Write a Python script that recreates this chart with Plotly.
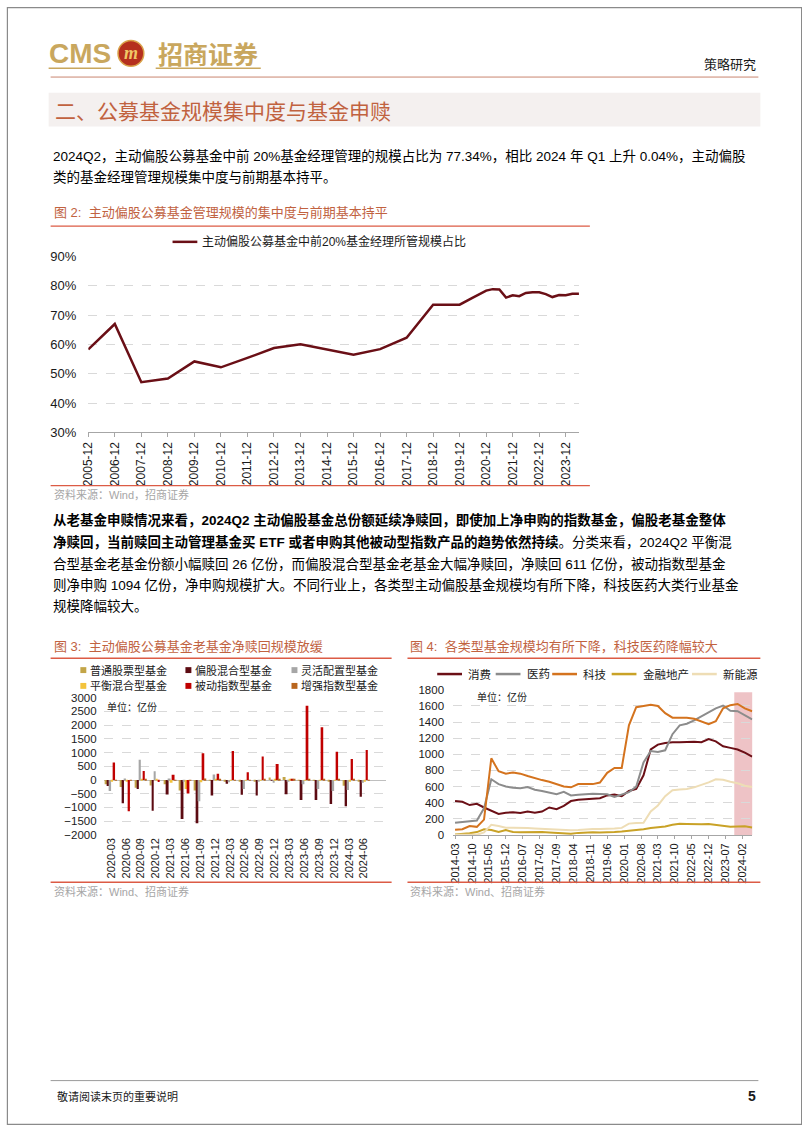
import plotly.graph_objects as go

W, H = 802, 1133
def X(px): return px / W
def Y(py): return 1 - py / H

CJK = "Liberation Sans, Noto Sans CJK SC"
TITLE_C = "#C1623F"
RED_LINE = "#DC5B45"
GOLD = "#C9A75E"

# ---------------- Chart 1 data (图2) ----------------
c1_dates = ["2005-12-31", "2006-12-31", "2007-12-31", "2008-12-31", "2009-12-31", "2010-12-31",
            "2011-12-31", "2012-12-31", "2013-12-31", "2014-12-31", "2015-12-31", "2016-12-31",
            "2017-12-31", "2018-12-31", "2019-12-31", "2020-06-30", "2020-12-31", "2021-03-31",
            "2021-06-30", "2021-09-30", "2021-12-31", "2022-03-31", "2022-06-30", "2022-09-30",
            "2022-12-31", "2023-03-31", "2023-06-30", "2023-09-30", "2023-12-31", "2024-03-31",
            "2024-06-30"]
c1_vals = [58.3, 67.0, 47.1, 48.4, 54.2, 52.2, 55.4, 58.8, 60.1, 58.3, 56.5, 58.4,
           62.3, 73.6, 73.6, 76.0, 78.4, 78.9, 78.8, 76.0, 76.8, 76.5, 77.6, 77.8,
           77.8, 77.2, 76.2, 76.9, 76.8, 77.30, 77.34]
c1_name = "主动偏股公募基金中前20%基金经理所管规模占比"
c1_tickvals = ["%d-12-31" % y for y in range(2005, 2024)]
c1_ticktext = ["%d-12" % y for y in range(2005, 2024)]
c1_yticks = [30, 40, 50, 60, 70, 80, 90]
c1_yticktext = ["30%", "40%", "50%", "60%", "70%", "80%", "90%"]

# ---------------- Chart 2 data (图3) ----------------
quarters = ["2020-03", "2020-06", "2020-09", "2020-12", "2021-03", "2021-06", "2021-09", "2021-12",
            "2022-03", "2022-06", "2022-09", "2022-12", "2023-03", "2023-06", "2023-09", "2023-12",
            "2024-03", "2024-06"]
stock_fund = [-150, -250, -280, -200, -150, -380, -380, 10, -30, -60, -40, 90, 110, -20, -20, -50, -210, -60]
equity_mixed = [-220, -850, -330, -1120, -530, -1420, -1580, -560, -140, -540, -560, -20, -520, -730, -730, -870, -960, -611]
flexible = [-400, 60, 740, 320, 60, -30, -770, 200, -80, -330, -60, -100, -60, -150, -330, -400, -360, -100]
balanced = [-30, -30, 40, 20, -100, -330, -80, 30, 10, 10, 10, 20, 20, 10, 10, 10, -30, -26]
passive_index = [640, -1140, 330, -70, 190, -490, 980, 230, 1060, 280, 860, 580, 50, 2710, 1920, 1030, 770, 1094]
enhanced_index = [10, -20, 20, 0, 10, 10, 60, 20, 10, 10, 20, 30, 20, 20, 40, 20, 20, 10]
bar_names = ["普通股票型基金", "偏股混合型基金", "灵活配置型基金", "平衡混合型基金", "被动指数型基金", "增强指数型基金"]
bar_colors = ["#C3A548", "#5C0B12", "#A6A6A6", "#F3C33C", "#C00000", "#B8651E"]
bar_series = [stock_fund, equity_mixed, flexible, balanced, passive_index, enhanced_index]

# ---------------- Chart 3 data (图4) ----------------
c3_dates = ["2014-03-01", "2014-06-01", "2014-09-01", "2014-12-01", "2015-03-01", "2015-06-01",
            "2015-09-01", "2015-12-01", "2016-03-01", "2016-06-01", "2016-09-01", "2016-12-01",
            "2017-03-01", "2017-06-01", "2017-09-01", "2017-12-01", "2018-03-01", "2018-06-01",
            "2018-09-01", "2018-12-01", "2019-03-01", "2019-06-01", "2019-09-01", "2019-12-01",
            "2020-03-01", "2020-06-01", "2020-09-01", "2020-12-01", "2021-03-01", "2021-06-01",
            "2021-09-01", "2021-12-01", "2022-03-01", "2022-06-01", "2022-09-01", "2022-12-01",
            "2023-03-01", "2023-06-01", "2023-09-01", "2023-12-01", "2024-03-01", "2024-06-01"]
consumer = [420, 410, 370, 385, 340, 300, 260, 275, 280, 272, 290, 275,
            290, 340, 320, 360, 420, 435, 440, 450, 455, 490, 500, 480,
            545, 570, 740, 1060, 1120, 1140, 1150, 1150, 1155, 1155, 1150, 1190,
            1160, 1100, 1080, 1060, 1020, 970]
medicine = [150, 160, 170, 178, 330, 690, 630, 600, 585, 580, 595, 560,
            545, 525, 505, 535, 490, 497, 505, 510, 508, 505, 470, 505,
            530, 600, 900, 1040, 1030, 1050, 1250, 1360, 1380, 1420, 1470, 1515,
            1570, 1605, 1540, 1535, 1480, 1433]
technology = [65, 70, 110, 100, 190, 950, 790, 760, 775, 760, 730, 700,
              680, 660, 625, 600, 590, 630, 630, 630, 650, 770, 830, 830,
              1360, 1585, 1600, 1616, 1600, 1510, 1455, 1455, 1453, 1440, 1410, 1375,
              1410, 1570, 1610, 1625, 1570, 1535]
finance_re = [5, 10, 20, 35, 70, 60, 35, 60, 35, 33, 35, 35,
              35, 30, 25, 20, 15, 25, 30, 33, 30, 30, 35, 42,
              50, 55, 70, 85, 95, 105, 125, 138, 135, 132, 132, 136,
              125, 105, 100, 105, 108, 92]
new_energy = [2, 2, 2, 2, 30, 125, 110, 90, 90, 90, 85, 80,
              75, 70, 65, 60, 58, 62, 70, 74, 74, 74, 80, 87,
              140, 148, 150, 290, 365, 480, 555, 562, 570, 590, 620, 652,
              690, 684, 660, 640, 610, 594]
line_names = ["消费", "医药", "科技", "金融地产", "新能源"]
line_colors = ["#6B0F16", "#8C8C8C", "#D4731E", "#C9A227", "#EEDDB5"]
line_series = [consumer, medicine, technology, finance_re, new_energy]
c3_ticktext = ["2014-03", "2014-10", "2015-05", "2015-12", "2016-07", "2017-02", "2017-09", "2018-04",
               "2018-11", "2019-06", "2020-01", "2020-08", "2021-03", "2021-10", "2022-05", "2022-12",
               "2023-07", "2024-02"]
c3_tickvals = [t + "-01" for t in c3_ticktext]
highlight_start, highlight_end, highlight_top = "2023-10-20", "2024-06-05", 1770

fig = go.Figure()

# chart 1
fig.add_trace(go.Scatter(x=c1_dates, y=c1_vals, mode="lines", name=c1_name,
                         line=dict(color="#6A0F16", width=2.5), xaxis="x", yaxis="y", showlegend=False))
# chart 2
for name, col, vals in zip(bar_names, bar_colors, bar_series):
    fig.add_trace(go.Bar(x=quarters, y=vals, name=name, marker=dict(color=col, line=dict(width=0)),
                         xaxis="x2", yaxis="y2", showlegend=False))
# chart 3
for name, col, vals in zip(line_names, line_colors, line_series):
    fig.add_trace(go.Scatter(x=c3_dates, y=vals, mode="lines", name=name,
                             line=dict(color=col, width=2), xaxis="x3", yaxis="y3", showlegend=False))

grid = dict(showgrid=True, gridcolor="#D9D9D9", griddash="dash", gridwidth=1)
numfont = dict(family="Liberation Sans, Arial", color="#1A1A1A")

fig.update_layout(
    width=W, height=H, margin=dict(l=0, r=0, t=0, b=0),
    paper_bgcolor="white", plot_bgcolor="white",
    barmode="group", bargap=0.2, bargroupgap=0,
    xaxis=dict(domain=[X(82), X(577)], anchor="y", type="date",
               range=["2005-12-31", "2024-06-30"], tickvals=c1_tickvals, ticktext=c1_ticktext,
               tickangle=-90, showline=True, linecolor="#A6A6A6", ticks="outside", tickcolor="#A6A6A6",
               ticklen=4, showgrid=False, tickfont=dict(size=12, **numfont)),
    yaxis=dict(domain=[Y(431), Y(253)], anchor="x", range=[30, 90], tickvals=c1_yticks,
               ticktext=c1_yticktext, zeroline=False, ticks="", ticklabelstandoff=11,
               tickfont=dict(size=13, **numfont), **grid),
    xaxis2=dict(domain=[X(97.5), X(382.5)], anchor="y2", type="category", range=[-0.5, 18.5],
                tickangle=-90, showline=False, ticks="", showgrid=False,
                tickfont=dict(size=11, **numfont)),
    yaxis2=dict(domain=[Y(839), Y(700)], anchor="x2", range=[-2000, 3000], dtick=500,
                zeroline=True, zerolinecolor="#BFBFBF", zerolinewidth=1, ticks="",
                ticklabelstandoff=6, tickfont=dict(size=11.5, **numfont), **grid),
    xaxis3=dict(domain=[X(450), X(752)], anchor="y3", type="date",
                range=["2014-02-04", highlight_end], tickvals=c3_tickvals, ticktext=c3_ticktext,
                tickangle=-90, showline=True, linecolor="#A6A6A6", ticks="outside", tickcolor="#A6A6A6",
                ticklen=3, showgrid=False, tickfont=dict(size=11, **numfont)),
    yaxis3=dict(domain=[Y(839), Y(692)], anchor="x3", range=[0, 1800], dtick=200, zeroline=False,
                ticks="", ticklabelstandoff=8, tickfont=dict(size=11.5, **numfont), **grid),
)

shapes = []
ann = []

def hline(x0, x1, y, color, width=1):
    shapes.append(dict(type="line", xref="paper", yref="paper", x0=X(x0), x1=X(x1), y0=Y(y), y1=Y(y),
                       line=dict(color=color, width=width)))

def text(x, y, s, size, color="#000", anchor="left", family=CJK, vanchor="middle"):
    ann.append(dict(xref="paper", yref="paper", x=X(x), y=Y(y), text=s, showarrow=False,
                    xanchor=anchor, yanchor=vanchor, font=dict(size=size, color=color, family=family)))

# page border
shapes.append(dict(type="rect", xref="paper", yref="paper", x0=0.0005, x1=0.9995, y0=0.0005, y1=0.9995,
                   line=dict(color="#8A8A8A", width=1.2)))

# header
text(40, 47, "<b>CMS</b>", 28, GOLD, family="Liberation Sans, Arial")
shapes.append(dict(type="circle", xref="paper", yref="paper", x0=X(112), x1=X(138), y0=Y(60), y1=Y(34),
                   fillcolor="#B5301E", line=dict(color="#D9A24A", width=1.5)))
text(125, 47, "<b><i>m</i></b>", 18, "#F0C866", anchor="center", family="Liberation Serif")
text(150, 47, "<b>招商证券</b>", 25, GOLD, family="Noto Sans CJK SC")
hline(42, 105, 62, GOLD, 1.5)
hline(150, 256, 62, GOLD, 1.5)
text(758, 57, "策略研究", 13, "#1A1A1A", anchor="right", family="Noto Sans CJK SC")
hline(44, 758, 71, "#C98670", 1)

# section title
shapes.append(dict(type="rect", xref="paper", yref="paper", x0=X(42), x1=X(760), y0=Y(121), y1=Y(87),
                   fillcolor="#F4F0EF", line=dict(width=0), layer="below"))
text(46, 104, "二、公募基金规模集中度与基金申赎", 21, TITLE_C, family="Noto Sans CJK SC")

# paragraph 1
text(44, 151, "2024Q2，主动偏股公募基金中前 20%基金经理管理的规模占比为 77.34%，相比 2024 年 Q1 上升 0.04%，主动偏股", 13.5)
text(44, 172, "类的基金经理管理规模集中度与前期基本持平。", 13.5)

# figure 2 title & legend & source
text(45, 208, "图 2:  主动偏股公募基金管理规模的集中度与前期基本持平", 13, TITLE_C)
hline(44, 588, 222, RED_LINE, 1.3)
hline(167, 192, 238, "#6A0F16", 2.5)
text(195, 238, c1_name, 12, "#1A1A1A")
hline(44, 588, 485, RED_LINE, 1.3)
text(45, 494, "资料来源：Wind，招商证券", 11, "#A6A6A6")

# paragraph 2
p2 = ["<b>从老基金申赎情况来看，2024Q2 主动偏股基金总份额延续净赎回，即使加上净申购的指数基金，偏股老基金整体</b>",
      "<b>净赎回，当前赎回主动管理基金买 ETF 或者申购其他被动型指数产品的趋势依然持续</b>。分类来看，2024Q2 平衡混",
      "合型基金老基金份额小幅赎回 26 亿份，而偏股混合型基金老基金大幅净赎回，净赎回 611 亿份，被动指数型基金",
      "则净申购 1094 亿份，净申购规模扩大。不同行业上，各类型主动偏股基金规模均有所下降，科技医药大类行业基金",
      "规模降幅较大。"]
for i, s in enumerate(p2):
    text(44, 520 + 22 * i, s, 13.5)

# figure 3 title, legend, source
text(45, 648, "图 3:  主动偏股公募基金老基金净赎回规模放缓", 13, TITLE_C)
hline(44, 388, 660, RED_LINE, 1.3)
leg_x = [77, 183, 290]
leg_y = [672, 688]
for i, (name, col) in enumerate(zip(bar_names, bar_colors)):
    lx = leg_x[i % 3]
    ly = leg_y[i // 3]
    shapes.append(dict(type="rect", xref="paper", yref="paper", x0=X(lx - 3), x1=X(lx + 3),
                       y0=Y(ly + 3), y1=Y(ly - 3), fillcolor=col, line=dict(width=0)))
    text(lx + 5, ly, name, 11, "#1A1A1A")
text(99, 709, "单位：亿份", 10, "#1A1A1A")
hline(44, 388, 887, RED_LINE, 1.3)
text(45, 896, "资料来源：Wind、招商证券", 11, "#A6A6A6")

# figure 4 title, legend, source
text(405, 648, "图 4:  各类型基金规模均有所下降，科技医药降幅较大", 13, TITLE_C)
hline(404, 760, 660, RED_LINE, 1.3)
leg3 = [(434, 463), (493, 523), (550, 579), (610, 640), (691, 720)]
for (lx, tx), name, col in zip(leg3, line_names, line_colors):
    hline(lx, lx + 25, 676, col, 2.5)
    text(tx, 676, name, 11.5, "#1A1A1A")
text(472, 699, "单位：亿份", 10, "#1A1A1A")
shapes.append(dict(type="rect", xref="x3", yref="y3", x0=highlight_start, x1=highlight_end,
                   y0=0, y1=highlight_top, fillcolor="#EBB9BC", opacity=0.85, line=dict(width=0),
                   layer="below"))
hline(404, 760, 887, RED_LINE, 1.3)
text(405, 896, "资料来源：Wind、招商证券", 11, "#A6A6A6")

# footer
hline(44, 758, 1088, "#9A9A9A", 1)
text(48, 1104, "敬请阅读末页的重要说明", 11, "#1A1A1A", family="Noto Sans CJK SC")
text(758, 1104, "<b>5</b>", 14, "#1A1A1A", anchor="right", family="Liberation Sans, Arial")

fig.update_layout(shapes=shapes, annotations=ann)
fig.write_html("out.html")
